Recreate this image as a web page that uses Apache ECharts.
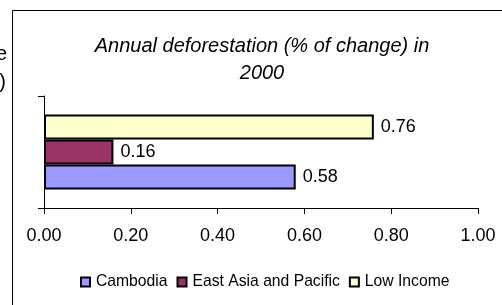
<!DOCTYPE html>
<html>
<head>
<meta charset="utf-8">
<script src="https://cdn.jsdelivr.net/npm/echarts@6/dist/echarts.min.js"></script>
<style>
  html, body { margin: 0; padding: 0; background: #fff; }
  #chart { width: 502px; height: 305px; }
</style>
</head>
<body>
<div id="chart"></div>
<script>
var categories = ['2000'];
var seriesNames = ['Cambodia', 'East Asia and Pacific', 'Low Income'];
var cambodia = [0.58];
var eastAsia = [0.16];
var lowIncome = [0.76];
var xTicks = [0, 0.2, 0.4, 0.6, 0.8, 1.0];

var colors = ['#9999ff', '#993366', '#ffffcc'];
var font = 'Liberation Sans, Arial, sans-serif';

var chart = echarts.init(document.getElementById('chart'));

function barSeries(name, data, color) {
    return {
        name: name,
        type: 'bar',
        data: data,
        barGap: '0%',
        barCategoryGap: '33%',
        itemStyle: { color: color, borderColor: '#000', borderWidth: 2 },
        label: {
            show: true,
            position: 'right',
            distance: 7,
            color: '#000',
            fontFamily: font,
            fontSize: 18,
            formatter: function (p) { return p.value.toFixed(2); }
        }
    };
}

var option = {
    animation: false,
    textStyle: { fontFamily: font },
    title: {
        text: 'Annual deforestation (% of change) in\n2000',
        left: 257,
        textAlign: 'center',
        top: 28,
        textStyle: {
            fontFamily: font,
            fontStyle: 'italic',
            fontWeight: 'normal',
            fontSize: 20,
            lineHeight: 27,
            color: '#000'
        }
    },
    legend: {
        data: seriesNames,
        orient: 'horizontal',
        bottom: 10,
        left: 75,
        itemWidth: 9,
        itemHeight: 9,
        itemGap: 9,
        icon: 'rect',
        itemStyle: { borderColor: '#000', borderWidth: 2 },
        textStyle: { fontFamily: font, fontSize: 15.7, color: '#000', padding: [0, 0, 0, 1] }
    },
    grid: { left: 44, right: 24, top: 96, bottom: 97, containLabel: false },
    xAxis: {
        type: 'value',
        min: 0,
        max: 1,
        interval: 0.2,
        axisLine: { show: true, lineStyle: { color: '#000', width: 1 } },
        axisTick: { show: true, length: 6, lineStyle: { color: '#000' } },
        splitLine: { show: false },
        axisLabel: {
            color: '#000',
            fontFamily: font,
            fontSize: 18,
            margin: 19,
            formatter: function (v) { return v.toFixed(2); }
        }
    },
    yAxis: {
        type: 'category',
        data: categories,
        axisLine: { show: true, lineStyle: { color: '#000', width: 1 } },
        axisTick: { show: true, length: 6, lineStyle: { color: '#000' } },
        axisLabel: { show: false }
    },
    graphic: [
        {
            type: 'rect',
            shape: { x: 12.5, y: 10.5, width: 600, height: 400 },
            style: { fill: 'none', stroke: '#000', lineWidth: 1 },
            silent: true
        },
        {
            type: 'text',
            x: 7, y: 44,
            style: { text: 'e', fill: '#000', font: '20px Liberation Sans', textAlign: 'right' }
        },
        {
            type: 'text',
            x: 6, y: 72,
            style: { text: ')', fill: '#000', font: '20px Liberation Sans', textAlign: 'right' }
        }
    ],
    // first series is drawn on top, so list them top to bottom
    series: [
        barSeries(seriesNames[2], lowIncome, colors[2]),
        barSeries(seriesNames[1], eastAsia, colors[1]),
        barSeries(seriesNames[0], cambodia, colors[0])
    ]
};

chart.setOption(option);
</script>
</body>
</html>
